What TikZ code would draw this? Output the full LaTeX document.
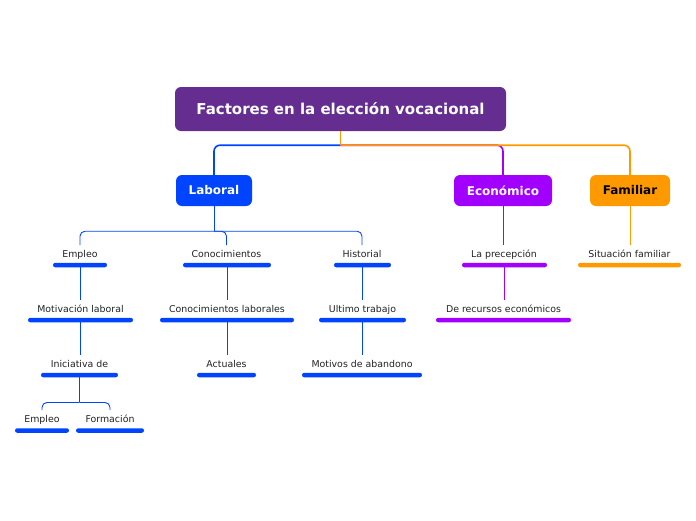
\documentclass[tikz,border=0pt]{standalone}
\usepackage{fontspec}
\setmainfont{DejaVu Sans}
\definecolor{cRoot}{RGB}{102,45,145}
\definecolor{cBlue}{RGB}{0,68,255}
\definecolor{cViolet}{RGB}{161,0,255}
\definecolor{cOrange}{RGB}{255,153,0}
\definecolor{cText}{RGB}{34,34,34}
\begin{document}
\begin{tikzpicture}[x=1pt,y=-1pt,
  main/.style={rounded corners=6pt, inner sep=0pt, text=white, minimum height=31pt,
    font=\bfseries\fontsize{12}{14}\selectfont},
  lbl/.style={anchor=base, inner sep=0pt, outer ysep=5pt, text height=7pt, text depth=2pt,
    font=\fontsize{9.4}{11}\selectfont, text=cText},
  bar/.style={rounded corners=2.2pt, inner sep=0pt, minimum height=4.5pt},
  bbar/.style={bar, fill=cBlue},
  vbar/.style={bar, fill=cViolet},
  obar/.style={bar, fill=cOrange},
  thick link/.style={line width=1.6pt, rounded corners=6pt},
  thin link/.style={line width=0.9pt, rounded corners=5pt}]
\useasboundingbox (0,0) rectangle (696,520);

% main nodes
\node[main, fill=cRoot, minimum width=331pt, minimum height=44pt,
  font=\bfseries\fontsize{15}{18}\selectfont] (root) at (340.5,109) {Factores en la elección vocacional};
\node[main, fill=cBlue, minimum width=76pt] (lab) at (214,190.5) {Laboral};
\node[main, fill=cViolet, minimum width=98pt] (eco) at (503,190.5) {Económico};
\node[main, fill=cOrange, minimum width=80pt, text=black] (fam) at (630,190.5) {Familiar};

% junctions
\path (root.south) ++(0,14) coordinate (j0);
\path (lab.south) ++(0,25) coordinate (j1);

% row 1
\node[lbl] (t11) at (80,257) {Empleo};
\node[lbl] (t12) at (226.5,257) {Conocimientos};
\node[lbl] (t13) at (362,257) {Historial};
\node[lbl] (t14) at (504,257) {La precepción};
\node[lbl] (t15) at (629.5,257) {Situación familiar};
\node[bbar, minimum width=54pt] (b11) at (80,265) {};
\node[bbar, minimum width=88pt] (b12) at (227,265) {};
\node[bbar, minimum width=57pt] (b13) at (362.5,265) {};
\node[vbar, minimum width=85pt] (b14) at (504.5,265) {};
\node[obar, minimum width=103pt] (b15) at (629.5,265) {};

% row 2
\node[lbl] (t21) at (80.5,312) {Motivación laboral};
\node[lbl] (t22) at (227,312) {Conocimientos laborales};
\node[lbl] (t23) at (362.5,312) {Ultimo trabajo};
\node[lbl] (t24) at (503.5,312) {De recursos económicos};
\node[bbar, minimum width=105pt] (b21) at (80.5,320) {};
\node[bbar, minimum width=134pt] (b22) at (227,320) {};
\node[bbar, minimum width=87pt] (b23) at (362.5,320) {};
\node[vbar, minimum width=135pt] (b24) at (503.5,320) {};

% row 3
\node[lbl] (t31) at (79.5,367) {Iniciativa de};
\node[lbl] (t32) at (226.5,367) {Actuales};
\node[lbl] (t33) at (362,367) {Motivos de abandono};
\node[bbar, minimum width=77pt] (b31) at (79.5,375) {};
\node[bbar, minimum width=59pt] (b32) at (226.5,375) {};
\node[bbar, minimum width=120pt] (b33) at (362,375) {};
\path (b31.south) ++(0,25) coordinate (j3);

% row 4
\node[lbl] (t41) at (42,422) {Empleo};
\node[lbl] (t42) at (110,422) {Formación};
\node[bbar, minimum width=54pt] (b41) at (42,430.5) {};
\node[bbar, minimum width=68pt] (b42) at (110,430.5) {};

% main connectors
\draw[thick link, cBlue] (j0) -| (lab.north);
\draw[thick link, cViolet] (j0) -| (eco.north);
\draw[thick link, cOrange] (j0) -| (fam.north);
\draw[thick link, cOrange] (root.south) -- (j0);

% connectors
\draw[thin link, cBlue] (lab.south) -- (j1);
\draw[thin link, cBlue] (j1) -| (t11.north);
\draw[thin link, cBlue] (j1) -| (t12.north);
\draw[thin link, cBlue] (j1) -| (t13.north);
\draw[thin link, cViolet] (eco.south) -- (eco.south |- t14.north);
\draw[thin link, cOrange] (fam.south) -- (fam.south |- t15.north);
\draw[thin link, cBlue] (b11.south) -- (b11.south |- t21.north);
\draw[thin link, cBlue] (b12.south) -- (b12.south |- t22.north);
\draw[thin link, cBlue] (b13.south) -- (b13.south |- t23.north);
\draw[thin link, cViolet] (b14.south) -- (b14.south |- t24.north);
\draw[thin link, cBlue] (b21.south) -- (b21.south |- t31.north);
\draw[thin link, cBlue] (b22.south) -- (b22.south |- t32.north);
\draw[thin link, cBlue] (b23.south) -- (b23.south |- t33.north);
\draw[thin link, cBlue] (b31.south) -- (j3);
\draw[thin link, cBlue] (j3) -| (t41.north);
\draw[thin link, cBlue] (j3) -| (t42.north);
\end{tikzpicture}
\end{document}
